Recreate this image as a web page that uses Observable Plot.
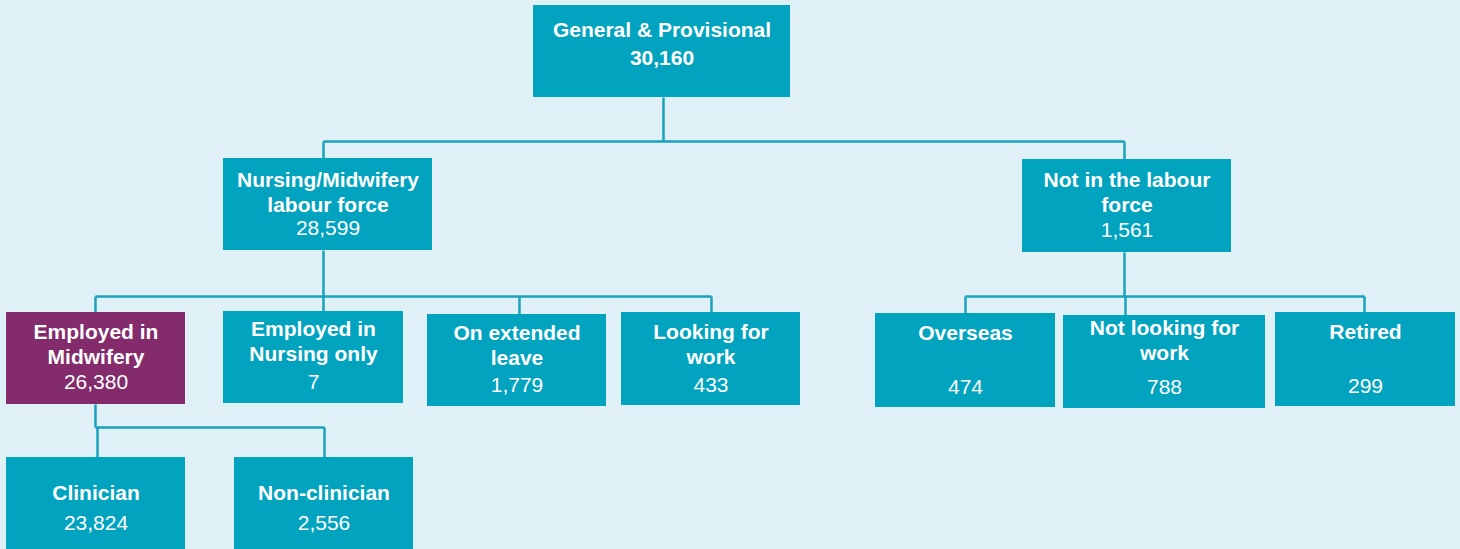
<!DOCTYPE html>
<html>
<head>
<meta charset="utf-8">
<script src="https://cdn.jsdelivr.net/npm/d3@7"></script>
<script src="https://cdn.jsdelivr.net/npm/@observablehq/plot@0.6"></script>
<style>
  html, body { margin: 0; padding: 0; background: #dff0f7; overflow: hidden; }
  svg text { font-family: "Liberation Sans", Arial, sans-serif; }
</style>
</head>
<body>
<div id="chart"></div>
<script>
// ---- Data ----
const nodeIds = ["root", "labour", "notLabour", "midwifery", "nursingOnly", "extLeave", "looking", "overseas", "notLooking", "retired", "clinician", "nonClinician"];
const nodeLabels = [
  "General & Provisional",
  "Nursing/Midwifery\nlabour force",
  "Not in the labour\nforce",
  "Employed in\nMidwifery",
  "Employed in\nNursing only",
  "On extended\nleave",
  "Looking for\nwork",
  "Overseas",
  "Not looking for\nwork",
  "Retired",
  "Clinician",
  "Non-clinician"
];
const nodeValues = [30160, 28599, 1561, 26380, 7, 1779, 433, 474, 788, 299, 23824, 2556];
const nodeParents = [null, "root", "root", "labour", "labour", "labour", "labour", "notLabour", "notLabour", "notLabour", "midwifery", "midwifery"];
const highlighted = ["midwifery"];
const boldValues = ["root"];

// ---- Layout (chart coordinates) ----
const boxX1 = [533, 223, 1022, 6, 223, 427, 621, 875, 1063, 1275, 6, 234];
const boxX2 = [790, 432, 1231, 185, 403, 606, 800, 1055, 1265, 1455, 185, 413];
const boxY1 = [5, 158, 159, 312, 311, 314, 312, 313, 315, 312, 457, 457];
const boxY2 = [97, 250, 252, 404, 403, 406, 405, 407, 408, 406, 549, 549];
const dropX = [663, 323, 1124, 95, 323, 519, 711, 965, 1125, 1364, 97, 324];
const labelY = [30, 180, 180, 332, 329, 333, 332, 333, 328, 332, 493, 493];
const valueY = [58, 228, 230, 382, 382, 385, 385, 387, 387, 386, 523, 523];
const busY = {root: 141, labour: 296, notLabour: 296, midwifery: 427};

const W = 1460, H = 549;
const teal = "#01a3bf", purple = "#832b6b", lineColor = "#18a2bd", bg = "#dff0f7";
const fmt = d3.format(",");

const nodes = nodeIds.map((id, i) => ({
  id, label: nodeLabels[i], value: nodeValues[i], parent: nodeParents[i],
  x1: boxX1[i], x2: boxX2[i], y1: boxY1[i], y2: boxY2[i],
  cx: (boxX1[i] + boxX2[i]) / 2, dropX: dropX[i], labelY: labelY[i], valueY: valueY[i]
}));

// connectors
const segs = [];
for (const p of nodes) {
  const kids = nodes.filter(d => d.parent === p.id);
  if (!kids.length) continue;
  const by = busY[p.id];
  segs.push({x1: p.dropX, y1: p.y2, x2: p.dropX, y2: by});
  const xs = kids.map(k => k.dropX).concat([p.dropX]);
  segs.push({x1: d3.min(xs), y1: by, x2: d3.max(xs), y2: by});
  for (const k of kids) segs.push({x1: k.dropX, y1: by, x2: k.dropX, y2: k.y1});
}

// label lines
const lines = [];
for (const n of nodes) {
  n.label.split("\n").forEach((t, j) => lines.push({text: t, x: n.cx, y: n.labelY + j * 24.5}));
}

const chart = Plot.plot({
  width: W, height: H,
  margin: 0,
  x: {domain: [0, W], range: [0, W], axis: null},
  y: {domain: [0, H], range: [0, H], axis: null},
  style: {background: bg, fontFamily: "'Liberation Sans', Arial, sans-serif"},
  marks: [
    Plot.link(segs, {x1: "x1", y1: "y1", x2: "x2", y2: "y2", stroke: lineColor, strokeWidth: 2.5}),
    Plot.rect(nodes, {x1: "x1", x2: "x2", y1: "y1", y2: "y2",
      fill: d => highlighted.includes(d.id) ? purple : teal}),
    Plot.text(lines, {x: "x", y: "y", text: "text", fill: "white", fontSize: 21, fontWeight: "bold", lineAnchor: "middle"}),
    Plot.text(nodes.filter(d => !boldValues.includes(d.id)), {x: "cx", y: "valueY", text: d => fmt(d.value), fill: "white", fontSize: 21, lineAnchor: "middle"}),
    Plot.text(nodes.filter(d => boldValues.includes(d.id)), {x: "cx", y: "valueY", text: d => fmt(d.value), fill: "white", fontSize: 21, fontWeight: "bold", lineAnchor: "middle"})
  ]
});
document.getElementById("chart").appendChild(chart);
</script>
</body>
</html>
